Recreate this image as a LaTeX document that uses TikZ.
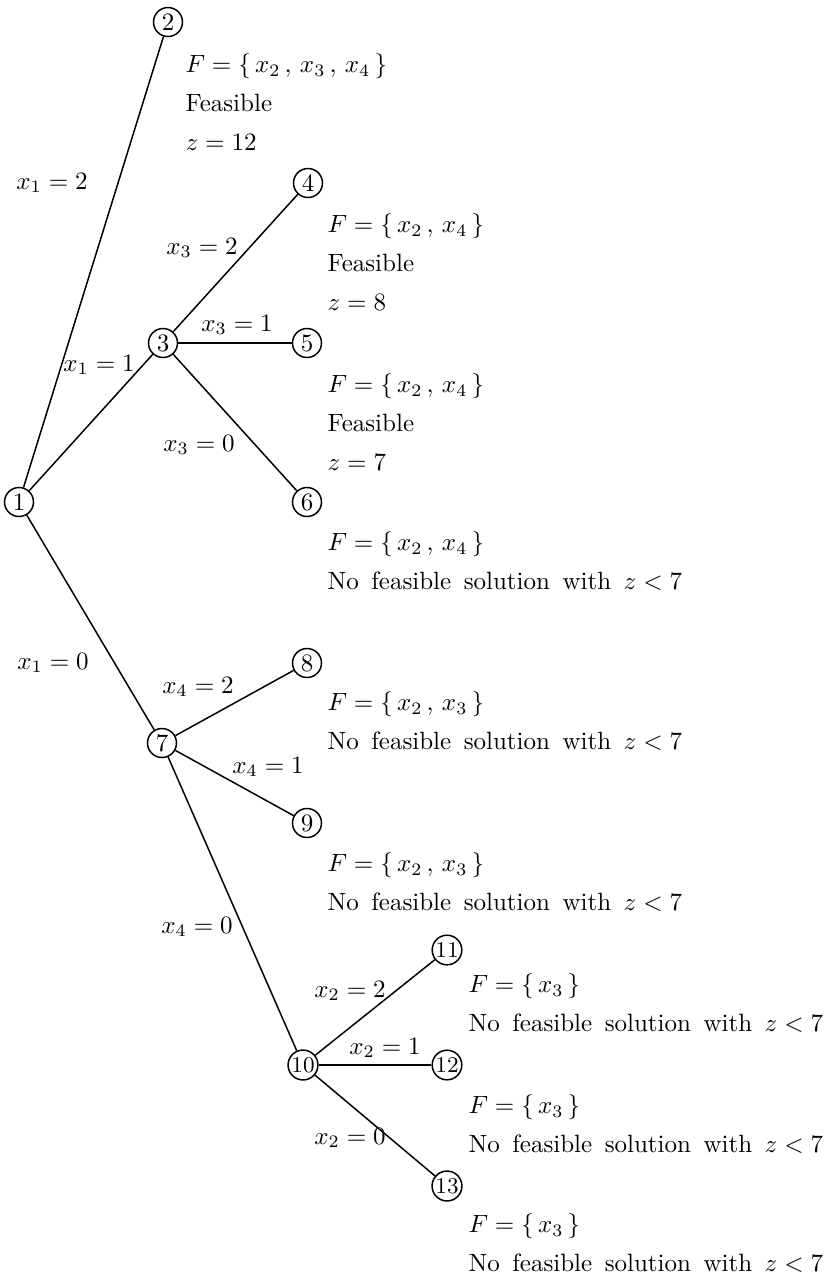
\documentclass[tikz,border=0pt]{standalone}
\usepackage{amsmath}
\newcommand\infofont{\fontsize{10pt}{15.6pt}\selectfont\spaceskip 5pt plus 1pt\relax}

\begin{document}
\begin{tikzpicture}[x=0.4pt, y=-0.4pt, font=\normalsize,
  nd/.style={draw, circle, semithick, minimum size=11.6pt, inner sep=0.3pt},
  nd2/.style={nd, font=\small},
  info/.style={align=left, anchor=west, inner sep=0pt, font=\infofont},
  lbl/.style={inner sep=0pt},
  br/.style={semithick}]
\useasboundingbox (0,0) rectangle (833,1282);
\node[nd] (n1) at (19,502) {1};
\node[nd] (n2) at (168,22) {2};
\node[nd] (n3) at (163,343) {3};
\node[nd] (n4) at (308,183) {4};
\node[nd] (n5) at (307,343) {5};
\node[nd] (n6) at (307,502) {6};
\node[nd] (n7) at (162,743) {7};
\node[nd] (n8) at (307,663) {8};
\node[nd] (n9) at (307,823) {9};
\node[nd2] (n10) at (303,1065) {10};
\node[nd2] (n11) at (447,950) {11};
\node[nd2] (n12) at (447,1065) {12};
\node[nd2] (n13) at (447,1186) {13};
\foreach \a/\b in {n1/n2,n1/n3,n1/n7,n3/n4,n3/n5,n3/n6,n7/n8,n7/n9,n7/n10,n10/n11,n10/n12,n10/n13}\draw[br](\a)--(\b);
\node[lbl] (l12) at (52,183) {$x_1=2$};
\node[lbl] (l11) at (99,365) {$x_1=1$};
\node[lbl] (l10) at (53,663) {$x_1=0$};
\node[lbl] (l32) at (202,248) {$x_3=2$};
\node[lbl] (l31) at (237,325) {$x_3=1$};
\node[lbl] (l30) at (199,445) {$x_3=0$};
\node[lbl] (l42) at (198,687) {$x_4=2$};
\node[lbl] (l41) at (268,767) {$x_4=1$};
\node[lbl] (l40) at (197,927) {$x_4=0$};
\node[lbl] (l22) at (350,991) {$x_2=2$};
\node[lbl] (l21) at (385,1048) {$x_2=1$};
\node[lbl] (l20) at (350,1138) {$x_2=0$};
\node[info] (t2) at (185,102) {$F=\{\,x_2\,,\,x_3\,,\,x_4\,\}$\\Feasible\\$z=12$};
\node[info] (t4) at (327,262) {$F=\{\,x_2\,,\,x_4\,\}$\\Feasible\\$z=8$};
\node[info] (t5) at (327,422) {$F=\{\,x_2\,,\,x_4\,\}$\\Feasible\\$z=7$};
\node[info] (t6) at (327,561) {$F=\{\,x_2\,,\,x_4\,\}$\\No feasible solution with $z<7$};
\node[info] (t8) at (327,721) {$F=\{\,x_2\,,\,x_3\,\}$\\No feasible solution with $z<7$};
\node[info] (t9) at (327,882) {$F=\{\,x_2\,,\,x_3\,\}$\\No feasible solution with $z<7$};
\node[info] (t11) at (468,1003) {$F=\{\,x_3\,\}$\\No feasible solution with $z<7$};
\node[info] (t12) at (468,1124) {$F=\{\,x_3\,\}$\\No feasible solution with $z<7$};
\node[info] (t13) at (468,1243) {$F=\{\,x_3\,\}$\\No feasible solution with $z<7$};
\end{tikzpicture}
\end{document}
